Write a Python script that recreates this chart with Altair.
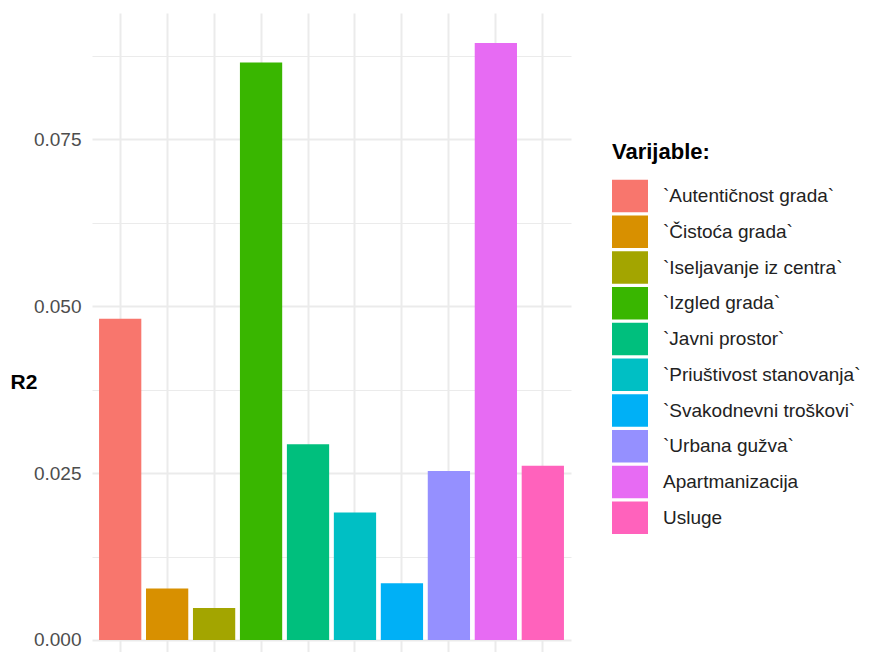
import altair as alt
import pandas as pd

variables = [
    "`Autentičnost grada`",
    "`Čistoća grada`",
    "`Iseljavanje iz centra`",
    "`Izgled grada`",
    "`Javni prostor`",
    "`Priuštivost stanovanja`",
    "`Svakodnevni troškovi`",
    "`Urbana gužva`",
    "Apartmanizacija",
    "Usluge",
]
r2_values = [0.0481, 0.0077, 0.0048, 0.0865, 0.0293, 0.0191, 0.0085, 0.0253, 0.0894, 0.0261]
colors = ["#F8766D", "#D89000", "#A3A500", "#39B600", "#00BF7D",
          "#00BFC4", "#00B0F6", "#9590FF", "#E76BF3", "#FF62BC"]
major_ticks = [0.0, 0.025, 0.05, 0.075]
minor_ticks = [0.0125, 0.0375, 0.0625, 0.0875]

df = pd.DataFrame({"Varijabla": variables, "R2": r2_values})

is_major = "abs(datum.value*40 - round(datum.value*40)) < 0.000001"

chart = alt.Chart(df).mark_bar().encode(
    x=alt.X(
        "Varijabla:N",
        sort=None,
        scale=alt.Scale(paddingInner=0.1, paddingOuter=0.15),
        axis=alt.Axis(
            title=None, labels=False, ticks=False, domain=False,
            grid=True, gridColor="#EBEBEB", gridWidth=2, bandPosition=0.5,
        ),
    ),
    y=alt.Y(
        "R2:Q",
        scale=alt.Scale(domain=[-0.0018, 0.0939], nice=False, zero=False),
        axis=alt.Axis(
            values=sorted(major_ticks + minor_ticks),
            labelExpr=f"({is_major}) ? format(datum.value, '.3f') : ''",
            labelOverlap=False,
            ticks=False, domain=False,
            grid=True, gridColor="#EBEBEB",
            gridWidth={"condition": {"test": is_major, "value": 2}, "value": 1},
            labelFont="Liberation Sans", labelFontSize=19, labelColor="#4D4D4D",
            labelPadding=11,
            title="R2", titleFont="Liberation Sans", titleFontSize=21,
            titleFontWeight="bold", titleColor="black", titleAngle=0,
            titleAlign="left", titleBaseline="alphabetic",
            titleX=-82, titleY=375,
        ),
    ),
    y2=alt.datum(0),
    color=alt.Color(
        "Varijabla:N",
        sort=None,
        scale=alt.Scale(domain=variables, range=colors),
        legend=alt.Legend(
            title="Varijable:", orient="none", legendX=520, legendY=129,
            symbolType="M-1,-0.9H1V0.9H-1Z", symbolSize=1296,
            symbolStrokeWidth=0, symbolOpacity=1,
            labelFont="Liberation Sans", labelFontSize=19, labelColor="#222222",
            labelOffset=15, labelLimit=400,
            titleFont="Liberation Sans", titleFontSize=22, titleFontWeight="bold",
            titleColor="black", titlePadding=14, rowPadding=0.75, padding=0,
        ),
    ),
).properties(
    width=479,
    height=639,
    padding={"left": 84, "top": 5, "right": 294, "bottom": 0},
    autosize=alt.AutoSizeParams(type="none"),
).configure_view(strokeWidth=0)

chart.save("out.html", embed_options={"renderer": "svg", "actions": False})
